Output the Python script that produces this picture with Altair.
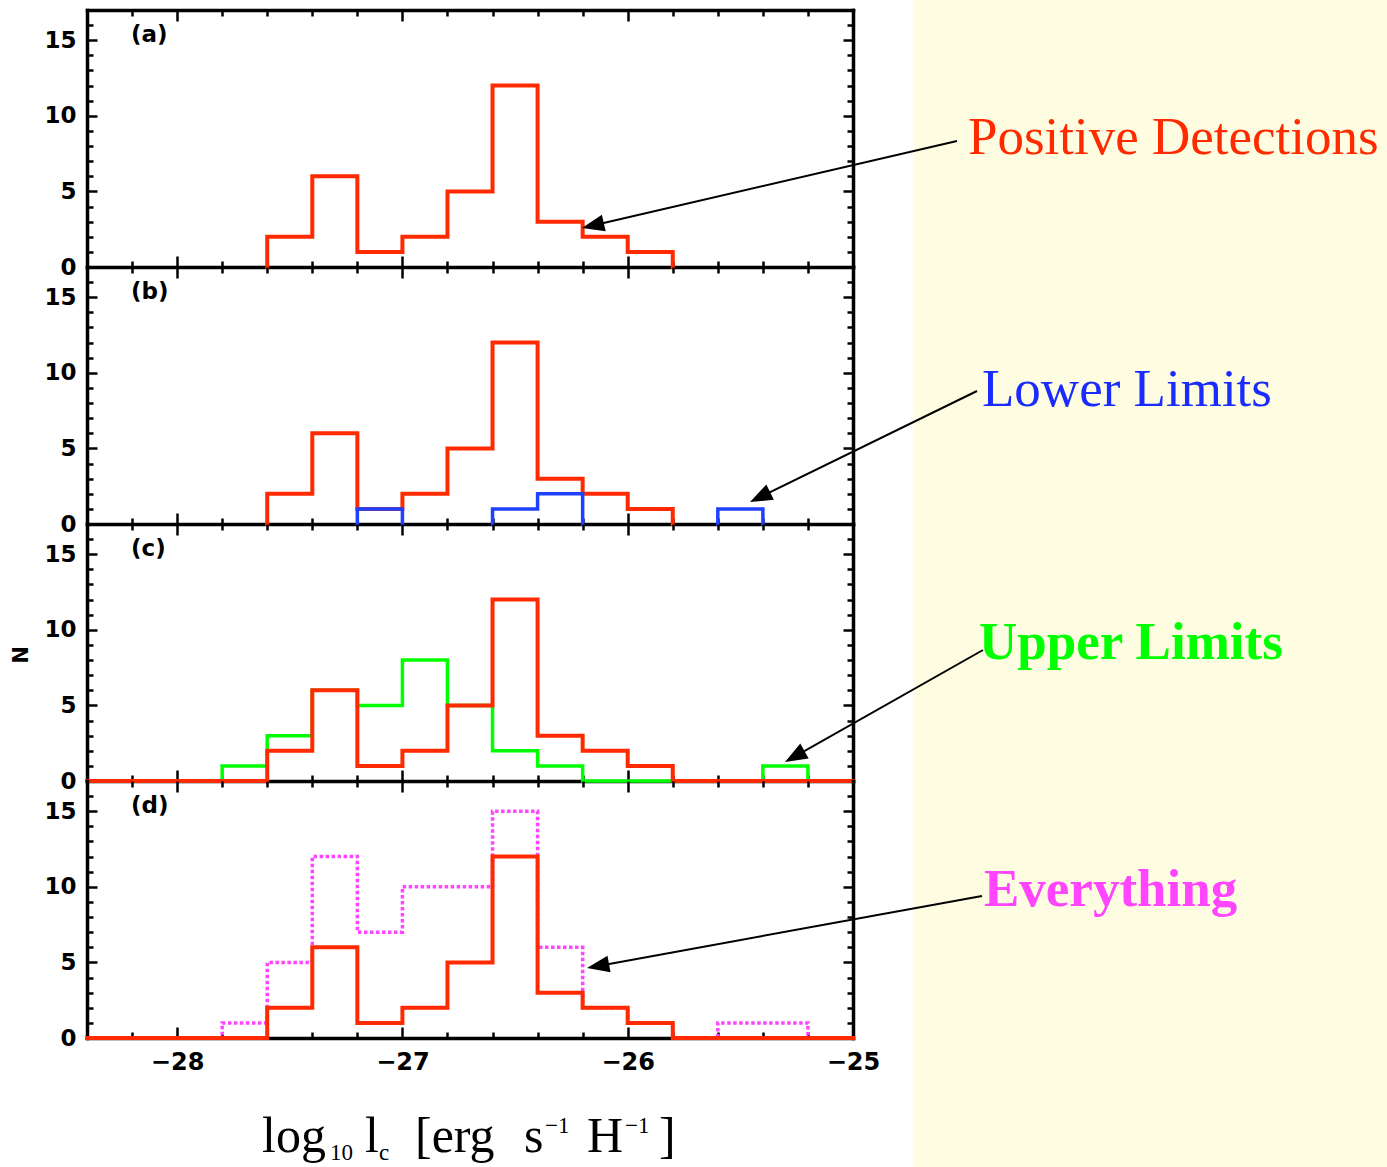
import math
import altair as alt
import pandas as pd

# ---------------- data ----------------
bin_left = [-28.4, -28.2, -28.0, -27.8, -27.6, -27.4, -27.2, -27.0, -26.8,
            -26.6, -26.4, -26.2, -26.0, -25.8, -25.6, -25.4, -25.2]
bin_width = 0.2
positive   = [0, 0, 0, 0, 2, 6, 1, 2, 5, 12, 3, 2, 1, 0, 0, 0, 0]
lower      = [0, 0, 0, 0, 0, 0, 1, 0, 0, 1, 2, 0, 0, 0, 1, 0, 0]
upper      = [0, 0, 0, 1, 3, 6, 5, 8, 5, 2, 1, 0, 0, 0, 0, 1, 0]
everything = [0, 0, 0, 1, 5, 12, 7, 10, 10, 15, 6, 2, 1, 0, 1, 1, 0]

x_major = [-28, -27, -26, -25]
x_minor = [-28.2, -27.8, -27.6, -27.4, -27.2, -26.8, -26.6, -26.4, -26.2,
           -25.8, -25.6, -25.4, -25.2]
y_major = [0, 5, 10, 15]
y_minor = [1, 2, 3, 4, 6, 7, 8, 9, 11, 12, 13, 14, 16]
x_domain = [-28.4, -25.0]
y_domain = [0, 17]
panel_tags = ["(a)", "(b)", "(c)", "(d)"]
labels = ["Positive Detections", "Lower Limits", "Upper Limits", "Everything"]

# ---------------- style ----------------
W, H = 766, 257
X0 = 87                       # page x of the plot's left edge
TOPS = [10, 267, 524, 781]    # page y of each panel's top edge
PAGE_W, PAGE_H = 1387, 1167
YELLOW = "#FFFDE1"
RED = "#FF2A00"
BLUE = "#1E40FF"
BLUE_TXT = "#1A2BFF"
GREEN = "#00FF00"
MAGENTA = "#FF45FF"
SANS = "DejaVu Sans"
SERIF = "Liberation Serif"

XS = alt.Scale(domain=x_domain, nice=False, zero=False)
YS = alt.Scale(domain=y_domain, nice=False, zero=False)
ONE = pd.DataFrame({"k": [0]})
CARRIER = pd.DataFrame({"x": [x_domain[0]], "y": [y_domain[0]]})
ARROW = "M0,0L-1,-0.38L-1,0.38Z"


def steps_full(counts):
    rows = [(bin_left[i], c, 0) for i, c in enumerate(counts)]
    rows.append((round(bin_left[-1] + bin_width, 1), counts[-1], 0))
    return rows


def steps_runs(counts):
    rows, seg, i, n = [], 0, 0, len(counts)
    while i < n:
        if counts[i] > 0:
            j = i
            while j + 1 < n and counts[j + 1] > 0:
                j += 1
            rows.append((bin_left[i], 0, seg))
            for k in range(i, j + 1):
                rows.append((bin_left[k], counts[k], seg))
            rows.append((round(bin_left[j] + bin_width, 1), 0, seg))
            seg += 1
            i = j + 1
        else:
            i += 1
    return rows


def hist(rows, color, width, dash=None):
    df = pd.DataFrame([{"x": x, "y": y, "seg": s, "i": k}
                       for k, (x, y, s) in enumerate(rows)])
    mk = dict(interpolate="step-after", color=color, strokeWidth=width,
              strokeJoin="miter", strokeCap="butt" if dash else "square")
    if dash:
        mk["strokeDash"] = dash
    return alt.Chart(df).mark_line(**mk).encode(
        x=alt.X("x:Q", scale=XS, axis=None),
        y=alt.Y("y:Q", scale=YS, axis=None),
        detail="seg:N",
        order="i:Q",
    )


def tick_axis(orient, offset, values, size, frame=False):
    kw = dict(orient=orient, offset=offset, values=values, tickSize=size,
              ticks=True, labels=False, grid=False, title=None,
              tickColor="black", tickWidth=2.5)
    if frame:
        kw.update(domain=True, domainColor="black", domainWidth=3.5,
                  domainCap="square")
    else:
        kw.update(domain=False)
    return alt.Axis(**kw)


def carrier(xaxis, yaxis):
    return alt.Chart(CARRIER).mark_point(opacity=0).encode(
        x=alt.X("x:Q", scale=XS, axis=xaxis),
        y=alt.Y("y:Q", scale=YS, axis=yaxis),
    )


def axes_layers(idx):
    lab = dict(labelFont=SANS, labelFontWeight="bold", labelColor="black",
               grid=False, title=None, domain=False, ticks=False, tickSize=0,
               labelOverlap=False)
    x_lab = alt.Axis(orient="bottom", values=x_major, format="d", labelPadding=12,
                     labelFlush=False, labelFontSize=24, **lab) if idx == 3 else None
    y_lab = alt.Axis(orient="left", values=y_major, format="d", labelPadding=11,
                     labelFontSize=23, **lab)
    return [
        carrier(x_lab, y_lab),
        # inward ticks at bottom edge / left edge (plus frame lines)
        carrier(tick_axis("top", -H, x_major, 11, True),
                tick_axis("right", -W, y_major, 10, True)),
        carrier(tick_axis("top", -H, x_minor, 6), tick_axis("right", -W, y_minor, 6)),
        # inward ticks at top edge / right edge (top frame line only on first panel)
        carrier(tick_axis("bottom", -H, x_major, 11, idx == 0),
                tick_axis("left", -W, y_major, 10, True)),
        carrier(tick_axis("bottom", -H, x_minor, 6), tick_axis("left", -W, y_minor, 6)),
    ]


def yellow(idx):
    y0 = -TOPS[0] if idx == 0 else 0
    y1 = PAGE_H - TOPS[3] if idx == 3 else H
    return alt.Chart(ONE).mark_rect(color=YELLOW, strokeWidth=0).encode(
        x=alt.value(914 - X0), x2=alt.value(PAGE_W - X0),
        y=alt.value(y0), y2=alt.value(y1))


def arrow(idx, sx, sy, tx, ty):
    top = TOPS[idx]
    lsx, lsy, ltx, lty = sx - X0, sy - top, tx - X0, ty - top
    dx, dy = ltx - lsx, lty - lsy
    L = math.hypot(dx, dy)
    ang = math.degrees(math.atan2(dy, dx)) % 360
    ex, ey = ltx - dx / L * 10, lty - dy / L * 10
    rule = alt.Chart(ONE).mark_rule(color="black", strokeWidth=2).encode(
        x=alt.value(lsx), y=alt.value(lsy), x2=alt.value(ex), y2=alt.value(ey))
    head = alt.Chart(ONE).mark_point(shape=ARROW, filled=True, color="black",
                                     strokeWidth=0, size=2000, angle=ang,
                                     opacity=1).encode(
        x=alt.value(ltx), y=alt.value(lty))
    return [rule, head]


def label(idx, text, px, py, color, bold):
    return alt.Chart(ONE).mark_text(
        text=text, align="left", baseline="alphabetic", font=SERIF, fontSize=53,
        fontWeight="bold" if bold else "normal", color=color).encode(
        x=alt.value(px - X0), y=alt.value(py - TOPS[idx]))


def tag(idx):
    return alt.Chart(ONE).mark_text(
        text=panel_tags[idx], align="left", baseline="alphabetic", font=SANS,
        fontSize=23, fontWeight="bold", color="black").encode(
        x=alt.value(131 - X0), y=alt.value(32))


def panel(idx, hists, extra):
    layers = [yellow(idx)] + axes_layers(idx) + hists + extra + [tag(idx)]
    return alt.layer(*layers).resolve_axis(
        x="independent", y="independent").properties(width=W, height=H)


# left page anchor (white on white)
anchor = alt.Chart(ONE).mark_rect(color="white", strokeWidth=0).encode(
    x=alt.value(-X0), x2=alt.value(-X0 + 1), y=alt.value(-TOPS[0]),
    y2=alt.value(-TOPS[0] + 1))

pa = panel(0, [hist(steps_runs(positive), RED, 4)],
           arrow(0, 957, 141, 582, 228) +
           [label(0, labels[0], 968, 154, RED, False), anchor])

pb = panel(1, [hist(steps_runs(positive), RED, 4),
               hist(steps_runs(lower), BLUE, 3.5)],
           arrow(1, 977, 391, 750, 502) +
           [label(1, labels[1], 982, 406, BLUE_TXT, False)])

n_title = alt.Chart(ONE).mark_text(
    text="N", angle=270, align="center", baseline="middle", font=SANS,
    fontSize=21, fontWeight="bold", color="black").encode(
    x=alt.value(22 - X0), y=alt.value(655 - TOPS[2]))

pc = panel(2, [hist(steps_full(upper), GREEN, 3.5),
               hist(steps_full(positive), RED, 4)],
           arrow(2, 983, 650, 785, 762) +
           [label(2, labels[2], 979, 659, GREEN, True), n_title])

# x-axis title pieces: log10 l_c [erg s^-1 H^-1]
title_parts = [("log", 262, "main"), ("10", 330, "sub"), ("l", 365, "main"),
               ("c", 379, "sub"), ("[erg", 415, "main"), ("s", 524, "main"),
               ("\u22121", 545, "sup"), ("H", 587, "main"), ("\u22121", 625, "sup"),
               ("]", 659, "main")]
title_layers = []
for txt, px, kind in title_parts:
    size = 50 if kind == "main" else 23
    py = {"main": 1152, "sub": 1160, "sup": 1133}[kind]
    title_layers.append(alt.Chart(ONE).mark_text(
        text=txt, align="left", baseline="alphabetic", font=SERIF,
        fontSize=size, color="black").encode(
        x=alt.value(px - X0), y=alt.value(py - TOPS[3])))

pd_ = panel(3, [hist(steps_full(everything), MAGENTA, 3.5, dash=[3.5, 2.5]),
                hist(steps_full(positive), RED, 4)],
            arrow(3, 982, 896, 587, 968) +
            [label(3, labels[3], 984, 906, MAGENTA, True)] + title_layers)

chart = alt.vconcat(pa, pb, pc, pd_, spacing=0, bounds="flush").properties(
    padding=0, background="white"
).configure_view(strokeWidth=0)

chart.save("out.html", embed_options={"renderer": "svg", "actions": False})
